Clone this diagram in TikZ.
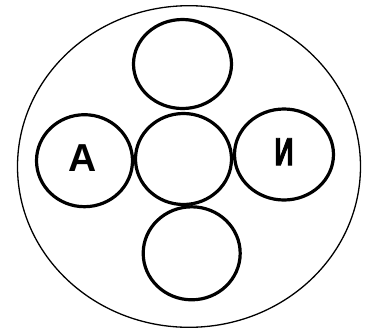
\documentclass[tikz,border=0pt]{standalone}
\usepackage{fontspec}
\setmainfont{Liberation Sans}
\newfontfamily\condbold{Liberation Sans Bold}[FakeStretch=0.68,FakeBold=2]
\usetikzlibrary{shapes.geometric}
\begin{document}
\begin{tikzpicture}[x=1bp,y=-1bp,
  ring/.style={ellipse,draw,line width=3.2bp,inner sep=0pt},
  outerring/.style={ellipse,draw,line width=1.3bp,inner sep=0pt},
  letter/.style={inner sep=0pt,font=\bfseries\fontsize{39bp}{39bp}\selectfont}]
\useasboundingbox (0,0) rectangle (370,331);
\node[outerring,minimum width=343bp,minimum height=321.6bp] (outer) at (189,166.5) {};
\node[ring,minimum width=98bp,minimum height=89bp] (top) at (182.5,64) {};
\node[ring,minimum width=96bp,minimum height=91bp] (mid) at (183.5,159) {};
\node[ring,minimum width=96bp,minimum height=92bp] (left) at (84.5,160.7) {};
\node[ring,minimum width=99bp,minimum height=91bp] (right) at (284,154.5) {};
\node[ring,minimum width=97bp,minimum height=93bp] (bottom) at (191.7,253.3) {};
\node[letter] (la) at (82.3,158.3) {A};
\node[inner sep=0pt,font=\condbold\fontsize{39bp}{39bp}\selectfont] (li) at (284,151.7) {И};
\end{tikzpicture}
\end{document}
